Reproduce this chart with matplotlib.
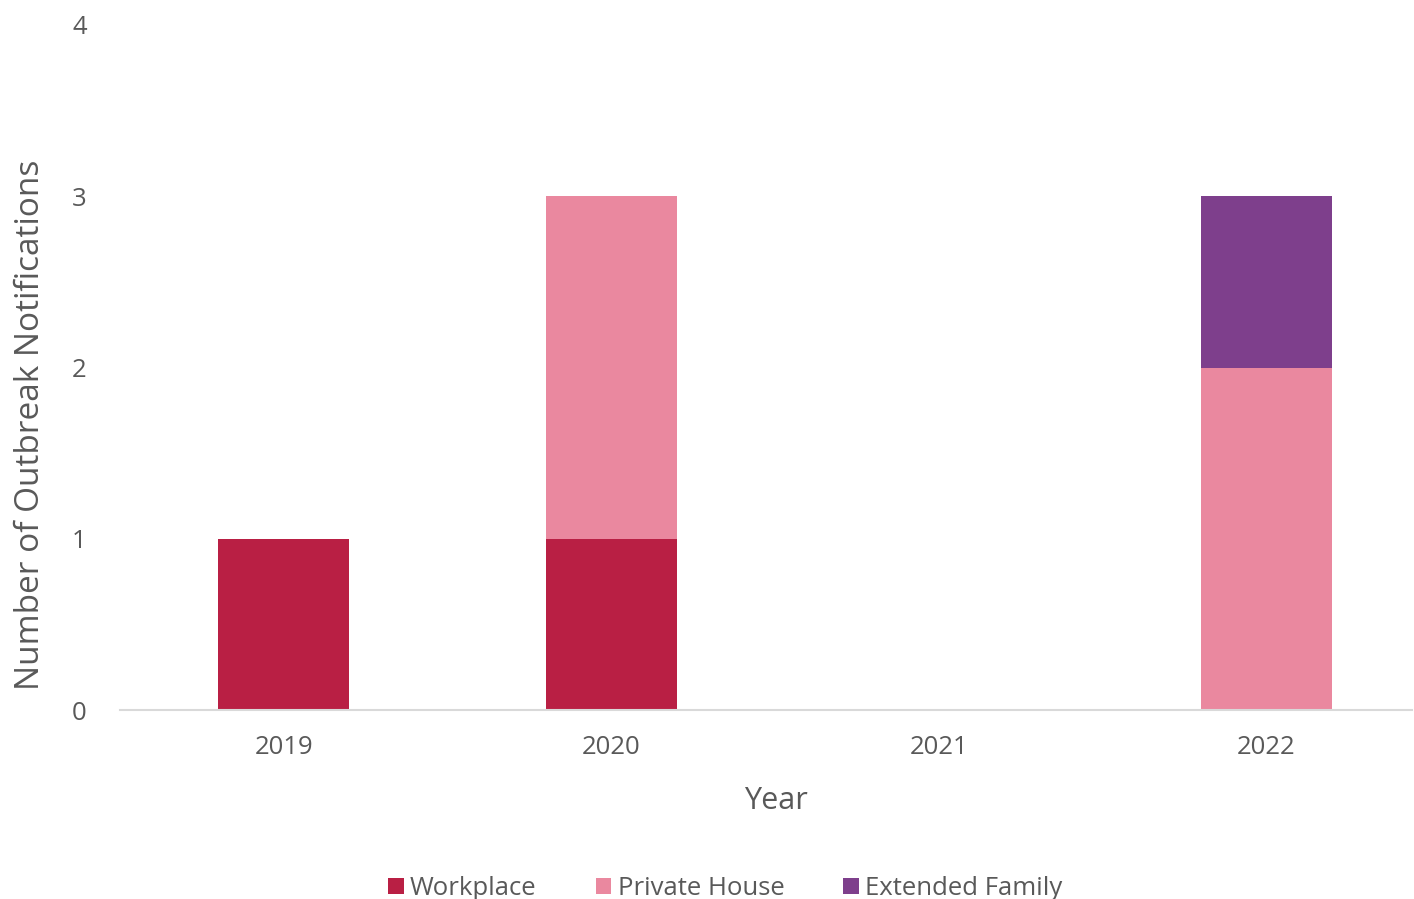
import matplotlib
matplotlib.use("Agg")
import matplotlib.pyplot as plt
import numpy as np

years = ["2019", "2020", "2021", "2022"]
workplace = [1, 1, 0, 0]
private_house = [0, 2, 0, 2]
extended_family = [0, 0, 0, 1]
yticks = [0, 1, 2, 3, 4]

colors = {"Workplace": "#B91F44", "Private House": "#EA889F", "Extended Family": "#7E3F8C"}

plt.rcParams['font.family'] = ['Open Sans', 'DejaVu Sans']
fig = plt.figure(figsize=(14.14, 8.99), dpi=100)
ax = fig.add_axes([0.0849, 0.2102, 0.9137, 0.762])

x = np.arange(len(years))
w = 0.4
wp = np.array(workplace); ph = np.array(private_house); ef = np.array(extended_family)
ax.bar(x, wp, w, color=colors["Workplace"], label="Workplace")
ax.bar(x, ph, w, bottom=wp, color=colors["Private House"], label="Private House")
ax.bar(x, ef, w, bottom=wp + ph, color=colors["Extended Family"], label="Extended Family")

ax.set_xlim(-0.5, 3.445)
ax.set_ylim(0, 4)
ax.set_yticks(yticks)
ax.set_xticks(x)
ax.set_xticklabels(years)
for s in ["top", "right", "left"]:
    ax.spines[s].set_visible(False)
ax.spines["bottom"].set_color("#D9D9D9")
ax.spines["bottom"].set_linewidth(1.5)
ax.tick_params(axis="both", length=0, labelsize=18.5, colors="#595959")
ax.tick_params(axis="y", pad=24)
ax.tick_params(axis="x", pad=18)
ax.set_ylabel("Number of Outbreak Notifications", fontsize=24, color="#595959")
ax.yaxis.set_label_coords(-0.0565, 0.417)
ax.set_xlabel("Year", fontsize=22, color="#595959")
ax.xaxis.set_label_coords(0.508, -0.111)

leg = ax.legend(loc="center", bbox_to_anchor=(0.4685, -0.261), ncol=3, frameon=False,
                fontsize=18.5, handlelength=0.6, handleheight=0.6, handletextpad=0.25,
                columnspacing=2.3)
for t in leg.get_texts():
    t.set_color("#595959")

fig.savefig("out.png", dpi=100)
